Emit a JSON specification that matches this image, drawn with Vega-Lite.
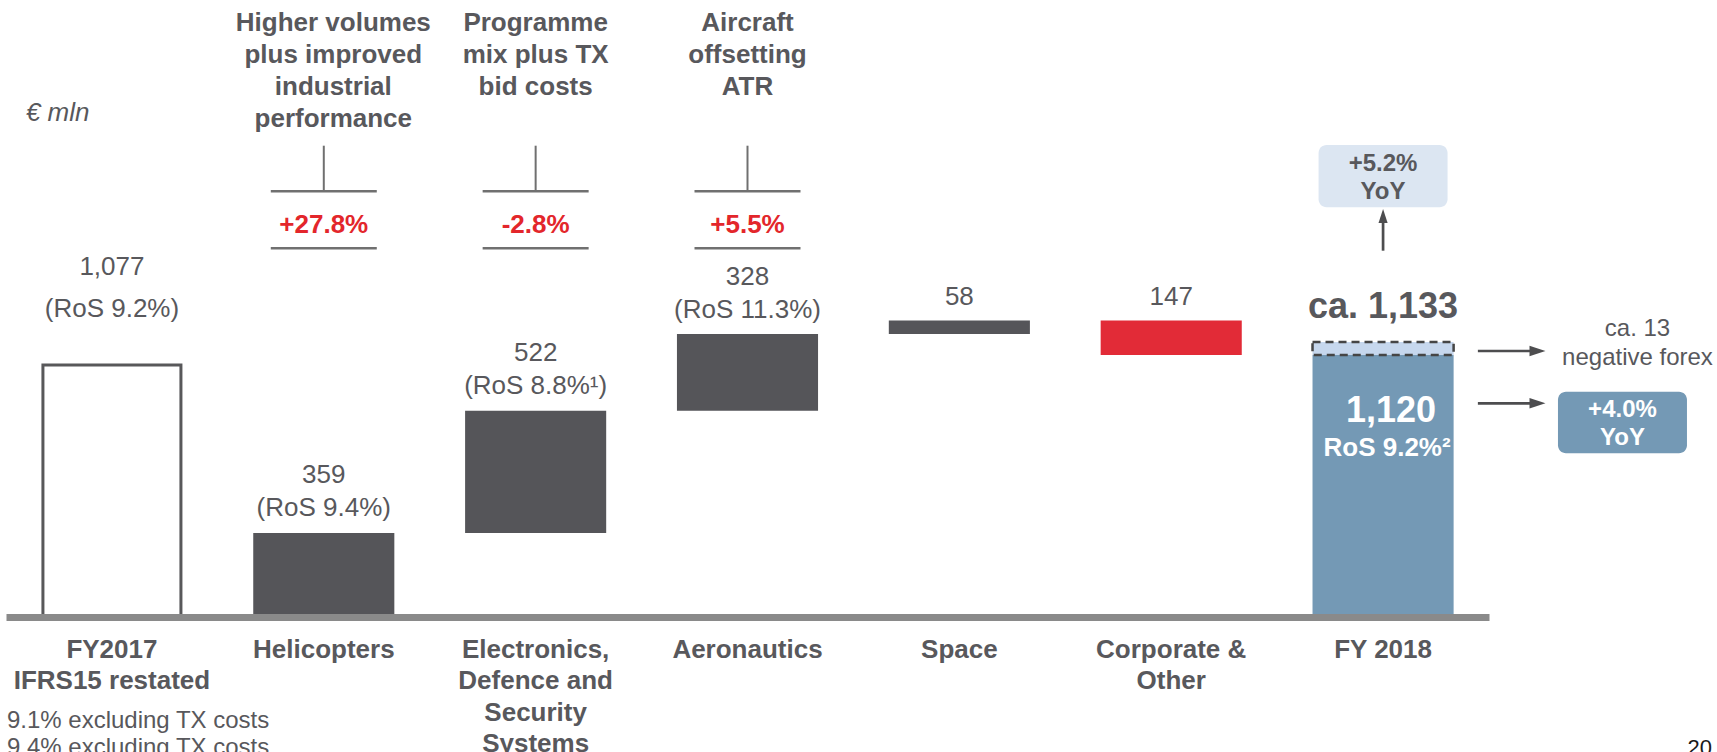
{
  "$schema": "https://vega.github.io/schema/vega-lite/v6.json",
  "width": 1483,
  "height": 617,
  "autosize": {"type": "none"},
  "padding": {"left": 6, "top": 0, "right": 228, "bottom": 135},
  "background": "white",
  "config": {"font": "Liberation Sans", "view": {"stroke": null}},
  "datasets": {
    "main": [
      {"cat": "FY2017\nIFRS15 restated", "value": 1077, "low": 0, "high": 1077, "label": "1,077\n(RoS 9.2%)", "kind": "total17"},
      {"cat": "Helicopters", "value": 359, "low": 0, "high": 359, "label": "359\n(RoS 9.4%)", "header": "Higher volumes\nplus improved\nindustrial\nperformance", "pct": "+27.8%", "kind": "seg"},
      {"cat": "Electronics,\nDefence and\nSecurity\nSystems", "value": 522, "low": 359, "high": 881, "label": "522\n(RoS 8.8%¹)", "header": "Programme\nmix plus TX\nbid costs", "pct": "-2.8%", "kind": "seg"},
      {"cat": "Aeronautics", "value": 328, "low": 881, "high": 1209, "label": "328\n(RoS 11.3%)", "header": "Aircraft\noffsetting\nATR", "pct": "+5.5%", "kind": "seg"},
      {"cat": "Space", "value": 58, "low": 1209, "high": 1267, "label": "58", "kind": "seg"},
      {"cat": "Corporate &\nOther", "value": -147, "low": 1120, "high": 1267, "label": "147", "kind": "neg"},
      {"cat": "FY 2018", "value": 1120, "low": 0, "high": 1120, "kind": "total18"}
    ],
    "fy18": [
      {"cat": "FY 2018", "value": 1120, "forex": 13, "forex_low": 1120, "forex_high": 1133, "total_label": "ca. 1,133", "value_label": "1,120", "ros_label": "RoS 9.2%²", "yoy_total": "+5.2%\nYoY", "yoy_organic": "+4.0%\nYoY", "forex_label": "ca. 13\nnegative forex"}
    ]
  },
  "encoding": {
    "x": {
      "field": "cat", "type": "nominal", "sort": null, "title": null,
      "scale": {
        "domain": ["FY2017\nIFRS15 restated", "Helicopters", "Electronics,\nDefence and\nSecurity\nSystems", "Aeronautics", "Space", "Corporate &\nOther", "FY 2018"],
        "paddingInner": 0.334, "paddingOuter": 0.167
      },
      "axis": {
        "title": null, "ticks": false, "grid": false,
        "domainColor": "#8a8a8a", "domainWidth": 7,
        "labelFontSize": 26, "labelFontWeight": "bold", "labelColor": "#58585c",
        "labelPadding": 40, "labelLineHeight": 31.5, "labelBaseline": "alphabetic",
        "labelAngle": 0, "labelLimit": 400, "labelOverlap": false, "labelBound": false,
        "labelExpr": "split(datum.label, '\\n')", "zindex": 1
      }
    }
  },
  "layer": [
    {
      "data": {"name": "main"},
      "transform": [{"filter": "datum.kind === 'total17'"}],
      "mark": {"type": "bar", "width": 138, "fill": "white", "stroke": "#58585a", "strokeWidth": 3},
      "encoding": {
        "y": {"field": "low", "type": "quantitative", "scale": {"domain": [0, 2636.75], "nice": false, "zero": false}, "axis": null},
        "y2": {"field": "high"}
      }
    },
    {
      "data": {"name": "main"},
      "transform": [{"filter": "datum.kind !== 'total17'"}],
      "mark": {"type": "bar"},
      "encoding": {
        "y": {"field": "low", "type": "quantitative", "scale": {"domain": [0, 2636.75], "nice": false, "zero": false}, "axis": null},
        "y2": {"field": "high"},
        "color": {"field": "kind", "type": "nominal", "scale": {"domain": ["seg", "neg", "total18"], "range": ["#555559", "#e22b37", "#7499b5"]}, "legend": null}
      }
    },
    {
      "data": {"name": "fy18"},
      "mark": {"type": "bar", "fill": "#c6d7ed", "stroke": "#454545", "strokeWidth": 2.5, "strokeDash": [8, 5], "yOffset": -10},
      "encoding": {
        "y": {"field": "forex_high", "type": "quantitative", "scale": {"domain": [0, 2636.75], "nice": false, "zero": false}, "axis": null},
        "y2": {"field": "forex_low"}
      }
    },
    {
      "data": {"name": "main"},
      "transform": [{"filter": "datum.kind === 'seg' && datum.cat !== 'Space'"}],
      "mark": {"type": "text", "baseline": "bottom", "dy": -44.5, "lineBreak": "\n", "lineHeight": 33, "fontSize": 26, "color": "#58585c"},
      "encoding": {
        "y": {"field": "high", "type": "quantitative", "scale": {"domain": [0, 2636.75], "nice": false, "zero": false}, "axis": null},
        "text": {"field": "label"}
      }
    },
    {
      "data": {"name": "main"},
      "transform": [{"filter": "datum.cat === 'Space' || datum.kind === 'neg'"}],
      "mark": {"type": "text", "baseline": "bottom", "dy": -10.5, "fontSize": 26, "color": "#58585c"},
      "encoding": {
        "y": {"field": "high", "type": "quantitative", "scale": {"domain": [0, 2636.75], "nice": false, "zero": false}, "axis": null},
        "text": {"field": "label"}
      }
    },
    {
      "data": {"name": "main"},
      "transform": [{"filter": "datum.kind === 'total17'"}],
      "mark": {"type": "text", "baseline": "bottom", "dy": -84.5, "lineBreak": "\n", "lineHeight": 42, "fontSize": 26, "color": "#58585c"},
      "encoding": {
        "y": {"field": "high", "type": "quantitative", "scale": {"domain": [0, 2636.75], "nice": false, "zero": false}, "axis": null},
        "text": {"field": "label"}
      }
    },
    {
      "data": {"name": "main"},
      "transform": [{"filter": "datum.cat === 'Helicopters'"}],
      "mark": {"type": "text", "baseline": "alphabetic", "dx": 9.5, "lineBreak": "\n", "lineHeight": 32, "fontSize": 26, "fontWeight": "bold", "color": "#58585c"},
      "encoding": {
        "y": {"datum": 2504.3, "type": "quantitative", "scale": {"domain": [0, 2636.75], "nice": false, "zero": false}, "axis": null},
        "text": {"field": "header"}
      }
    },
    {
      "data": {"name": "main"},
      "transform": [{"filter": "isValid(datum.header) && datum.cat !== 'Helicopters'"}],
      "mark": {"type": "text", "baseline": "alphabetic", "lineBreak": "\n", "lineHeight": 32, "fontSize": 26, "fontWeight": "bold", "color": "#58585c"},
      "encoding": {
        "y": {"datum": 2504.3, "type": "quantitative", "scale": {"domain": [0, 2636.75], "nice": false, "zero": false}, "axis": null},
        "text": {"field": "header"}
      }
    },
    {
      "data": {"name": "main"},
      "transform": [{"filter": "isValid(datum.header)"}],
      "mark": {"type": "rule", "color": "#707070", "strokeWidth": 2},
      "encoding": {
        "y": {"datum": 2014.1, "type": "quantitative", "scale": {"domain": [0, 2636.75], "nice": false, "zero": false}, "axis": null},
        "y2": {"datum": 1821.8}
      }
    },
    {
      "data": {"name": "main"},
      "transform": [{"filter": "isValid(datum.header)"}],
      "mark": {"type": "tick", "size": 106, "thickness": 2.5, "color": "#707070", "opacity": 1},
      "encoding": {
        "y": {"datum": 1819.2, "type": "quantitative", "scale": {"domain": [0, 2636.75], "nice": false, "zero": false}, "axis": null}
      }
    },
    {
      "data": {"name": "main"},
      "transform": [{"filter": "isValid(datum.header)"}],
      "mark": {"type": "tick", "size": 106, "thickness": 2.5, "color": "#707070", "opacity": 1},
      "encoding": {
        "y": {"datum": 1575.6, "type": "quantitative", "scale": {"domain": [0, 2636.75], "nice": false, "zero": false}, "axis": null}
      }
    },
    {
      "data": {"name": "main"},
      "transform": [{"filter": "isValid(datum.pct)"}],
      "mark": {"type": "text", "baseline": "alphabetic", "fontSize": 26, "fontWeight": "bold", "color": "#e3262b"},
      "encoding": {
        "y": {"datum": 1641, "type": "quantitative", "scale": {"domain": [0, 2636.75], "nice": false, "zero": false}, "axis": null},
        "text": {"field": "pct"}
      }
    },
    {
      "data": {"name": "main"},
      "transform": [{"filter": "datum.kind === 'total17'"}],
      "mark": {"type": "text", "align": "left", "baseline": "alphabetic", "dx": -86, "fontSize": 26, "fontStyle": "italic", "color": "#58585c"},
      "encoding": {
        "y": {"datum": 2121, "type": "quantitative", "scale": {"domain": [0, 2636.75], "nice": false, "zero": false}, "axis": null},
        "text": {"value": "€ mln"}
      }
    },
    {
      "data": {"name": "main"},
      "transform": [{"filter": "datum.kind === 'total17'"}],
      "mark": {"type": "text", "align": "left", "baseline": "alphabetic", "dx": -105, "fontSize": 24, "lineHeight": 27, "color": "#58585c"},
      "encoding": {
        "y": {"datum": -474.4, "type": "quantitative", "scale": {"domain": [0, 2636.75], "nice": false, "zero": false}, "axis": null},
        "text": {"value": ["9.1% excluding TX costs", "9.4% excluding TX costs"]}
      }
    },
    {
      "data": {"name": "fy18"},
      "mark": {"type": "text", "baseline": "alphabetic", "fontSize": 36, "fontWeight": "bold", "color": "#58585c"},
      "encoding": {
        "y": {"datum": 1277.8, "type": "quantitative", "scale": {"domain": [0, 2636.75], "nice": false, "zero": false}, "axis": null},
        "text": {"field": "total_label"}
      }
    },
    {
      "data": {"name": "fy18"},
      "mark": {"type": "text", "baseline": "alphabetic", "dx": 8, "fontSize": 36, "fontWeight": "bold", "color": "white"},
      "encoding": {
        "y": {"datum": 834.6, "type": "quantitative", "scale": {"domain": [0, 2636.75], "nice": false, "zero": false}, "axis": null},
        "text": {"field": "value_label"}
      }
    },
    {
      "data": {"name": "fy18"},
      "mark": {"type": "text", "baseline": "alphabetic", "dx": 4, "fontSize": 26, "fontWeight": "bold", "color": "white"},
      "encoding": {
        "y": {"datum": 688, "type": "quantitative", "scale": {"domain": [0, 2636.75], "nice": false, "zero": false}, "axis": null},
        "text": {"field": "ros_label"}
      }
    },
    {
      "data": {"name": "fy18"},
      "mark": {"type": "bar", "width": 129, "cornerRadius": 8, "fill": "#dce6f2"},
      "encoding": {
        "y": {"datum": 2017, "type": "quantitative", "scale": {"domain": [0, 2636.75], "nice": false, "zero": false}, "axis": null},
        "y2": {"datum": 1751}
      }
    },
    {
      "data": {"name": "fy18"},
      "mark": {"type": "text", "baseline": "alphabetic", "lineBreak": "\n", "lineHeight": 28.3, "fontSize": 24, "fontWeight": "bold", "color": "#58585c"},
      "encoding": {
        "y": {"datum": 1907.3, "type": "quantitative", "scale": {"domain": [0, 2636.75], "nice": false, "zero": false}, "axis": null},
        "text": {"field": "yoy_total"}
      }
    },
    {
      "data": {"name": "fy18"},
      "mark": {"type": "rule", "color": "#4d4d4f", "strokeWidth": 2.7},
      "encoding": {
        "y": {"datum": 1565.4, "type": "quantitative", "scale": {"domain": [0, 2636.75], "nice": false, "zero": false}, "axis": null},
        "y2": {"datum": 1692.3}
      }
    },
    {
      "data": {"name": "fy18"},
      "mark": {"type": "point", "shape": "M -0.65 1 L 0 -1 L 0.65 1 Z", "size": 196, "filled": true, "opacity": 1, "strokeWidth": 0, "color": "#4d4d4f"},
      "encoding": {
        "y": {"datum": 1713.7, "type": "quantitative", "scale": {"domain": [0, 2636.75], "nice": false, "zero": false}, "axis": null}
      }
    },
    {
      "data": {"name": "fy18"},
      "mark": {"type": "tick", "size": 54, "thickness": 2.7, "xOffset": 121.8, "color": "#4d4d4f", "opacity": 1},
      "encoding": {
        "y": {"datum": 1136.8, "type": "quantitative", "scale": {"domain": [0, 2636.75], "nice": false, "zero": false}, "axis": null}
      }
    },
    {
      "data": {"name": "fy18"},
      "mark": {"type": "point", "shape": "M -1 -0.65 L 1 0 L -1 0.65 Z", "size": 256, "filled": true, "opacity": 1, "strokeWidth": 0, "xOffset": 154.4, "color": "#4d4d4f"},
      "encoding": {
        "y": {"datum": 1136.8, "type": "quantitative", "scale": {"domain": [0, 2636.75], "nice": false, "zero": false}, "axis": null}
      }
    },
    {
      "data": {"name": "fy18"},
      "mark": {"type": "tick", "size": 54, "thickness": 2.7, "xOffset": 121.8, "color": "#4d4d4f", "opacity": 1},
      "encoding": {
        "y": {"datum": 913.2, "type": "quantitative", "scale": {"domain": [0, 2636.75], "nice": false, "zero": false}, "axis": null}
      }
    },
    {
      "data": {"name": "fy18"},
      "mark": {"type": "point", "shape": "M -1 -0.65 L 1 0 L -1 0.65 Z", "size": 256, "filled": true, "opacity": 1, "strokeWidth": 0, "xOffset": 154.4, "color": "#4d4d4f"},
      "encoding": {
        "y": {"datum": 913.2, "type": "quantitative", "scale": {"domain": [0, 2636.75], "nice": false, "zero": false}, "axis": null}
      }
    },
    {
      "data": {"name": "fy18"},
      "mark": {"type": "text", "baseline": "alphabetic", "dx": 254.4, "lineBreak": "\n", "lineHeight": 29, "fontSize": 24, "color": "#58585c"},
      "encoding": {
        "y": {"datum": 1200.9, "type": "quantitative", "scale": {"domain": [0, 2636.75], "nice": false, "zero": false}, "axis": null},
        "text": {"field": "forex_label"}
      }
    },
    {
      "data": {"name": "fy18"},
      "mark": {"type": "bar", "width": 129, "cornerRadius": 8, "xOffset": 239.4, "fill": "#7499b5"},
      "encoding": {
        "y": {"datum": 962.8, "type": "quantitative", "scale": {"domain": [0, 2636.75], "nice": false, "zero": false}, "axis": null},
        "y2": {"datum": 699.6}
      }
    },
    {
      "data": {"name": "fy18"},
      "mark": {"type": "text", "baseline": "alphabetic", "dx": 239.4, "lineBreak": "\n", "lineHeight": 28.3, "fontSize": 24, "fontWeight": "bold", "color": "white"},
      "encoding": {
        "y": {"datum": 856, "type": "quantitative", "scale": {"domain": [0, 2636.75], "nice": false, "zero": false}, "axis": null},
        "text": {"field": "yoy_organic"}
      }
    },
    {
      "data": {"name": "fy18"},
      "mark": {"type": "text", "align": "right", "baseline": "alphabetic", "dx": 329, "fontSize": 22, "color": "#1a1a1a"},
      "encoding": {
        "y": {"datum": -589.7, "type": "quantitative", "scale": {"domain": [0, 2636.75], "nice": false, "zero": false}, "axis": null},
        "text": {"value": "20"}
      }
    }
  ]
}
